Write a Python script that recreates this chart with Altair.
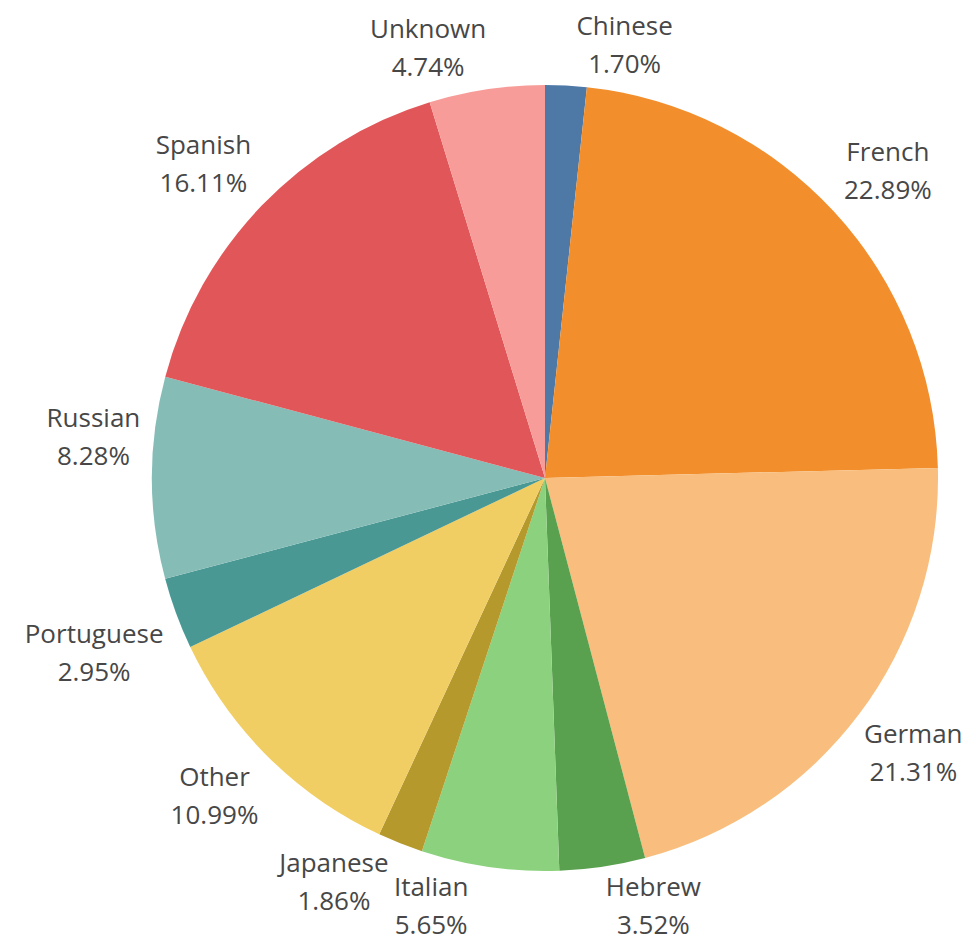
import altair as alt
import pandas as pd

languages = ["Chinese", "French", "German", "Hebrew", "Italian", "Japanese",
             "Other", "Portuguese", "Russian", "Spanish", "Unknown"]
shares = [1.70, 22.89, 21.31, 3.52, 5.65, 1.86, 10.99, 2.95, 8.28, 16.11, 4.74]
colors = ["#4e79a7", "#f28e2b", "#f9be7d", "#59a14f", "#8cd17d", "#b6992d",
          "#f1ce63", "#499894", "#86bcb6", "#e15759", "#f79c98"]

df = pd.DataFrame({"language": languages, "share": shares,
                   "idx": list(range(len(languages)))})

CX, CY, R = 537, 470, 393
FS = 26
FONT = "Open Sans"
TXT = "#474747"

base = alt.Chart(df)

pie = base.mark_arc(outerRadius=R).encode(
    theta=alt.Theta("share:Q", stack=True),
    color=alt.Color("language:N",
                    scale=alt.Scale(domain=languages, range=colors),
                    legend=None),
    order=alt.Order("idx:Q"),
    x=alt.value(CX),
    y=alt.value(CY),
)

lab = base.transform_window(
    cum="sum(share)", sort=[alt.SortField("idx")], frame=[None, 0]
).transform_joinaggregate(
    total="sum(share)"
).transform_calculate(
    mid="2*PI*(datum.cum - datum.share/2)/datum.total"
).transform_calculate(
    ox=f"{CX} + {R}*sin(datum.mid)",
    oy=f"{CY} - {R}*cos(datum.mid)",
    pct="format(datum.share, '.2f') + '%'",
).transform_calculate(
    hw=f"max(length(datum.language)*{FS*0.30}, length(datum.pct)*{FS*0.32})"
).transform_calculate(
    lx="datum.ox + (sin(datum.mid) >= 0 ? 1 : -1)*(4 + datum.hw)",
    ly="datum.oy + (cos(datum.mid) >= 0 ? -40 : 40)",
).transform_calculate(
    ny="datum.ly - 19",
    py="datum.ly + 19",
)

name_text = lab.mark_text(font=FONT, fontSize=FS, color=TXT,
                          align="center", baseline="middle").encode(
    x=alt.X("lx:Q", scale=None, axis=None),
    y=alt.Y("ny:Q", scale=None, axis=None),
    text="language:N",
)
pct_text = lab.mark_text(font=FONT, fontSize=FS, color=TXT,
                         align="center", baseline="middle").encode(
    x=alt.X("lx:Q", scale=None, axis=None),
    y=alt.Y("py:Q", scale=None, axis=None),
    text="pct:N",
)

chart = alt.layer(pie, name_text, pct_text).properties(
    width=960, height=933, autosize="none", padding=0
).configure_view(stroke=None)

chart.save("out.html", embed_options={"renderer": "svg", "actions": False})
